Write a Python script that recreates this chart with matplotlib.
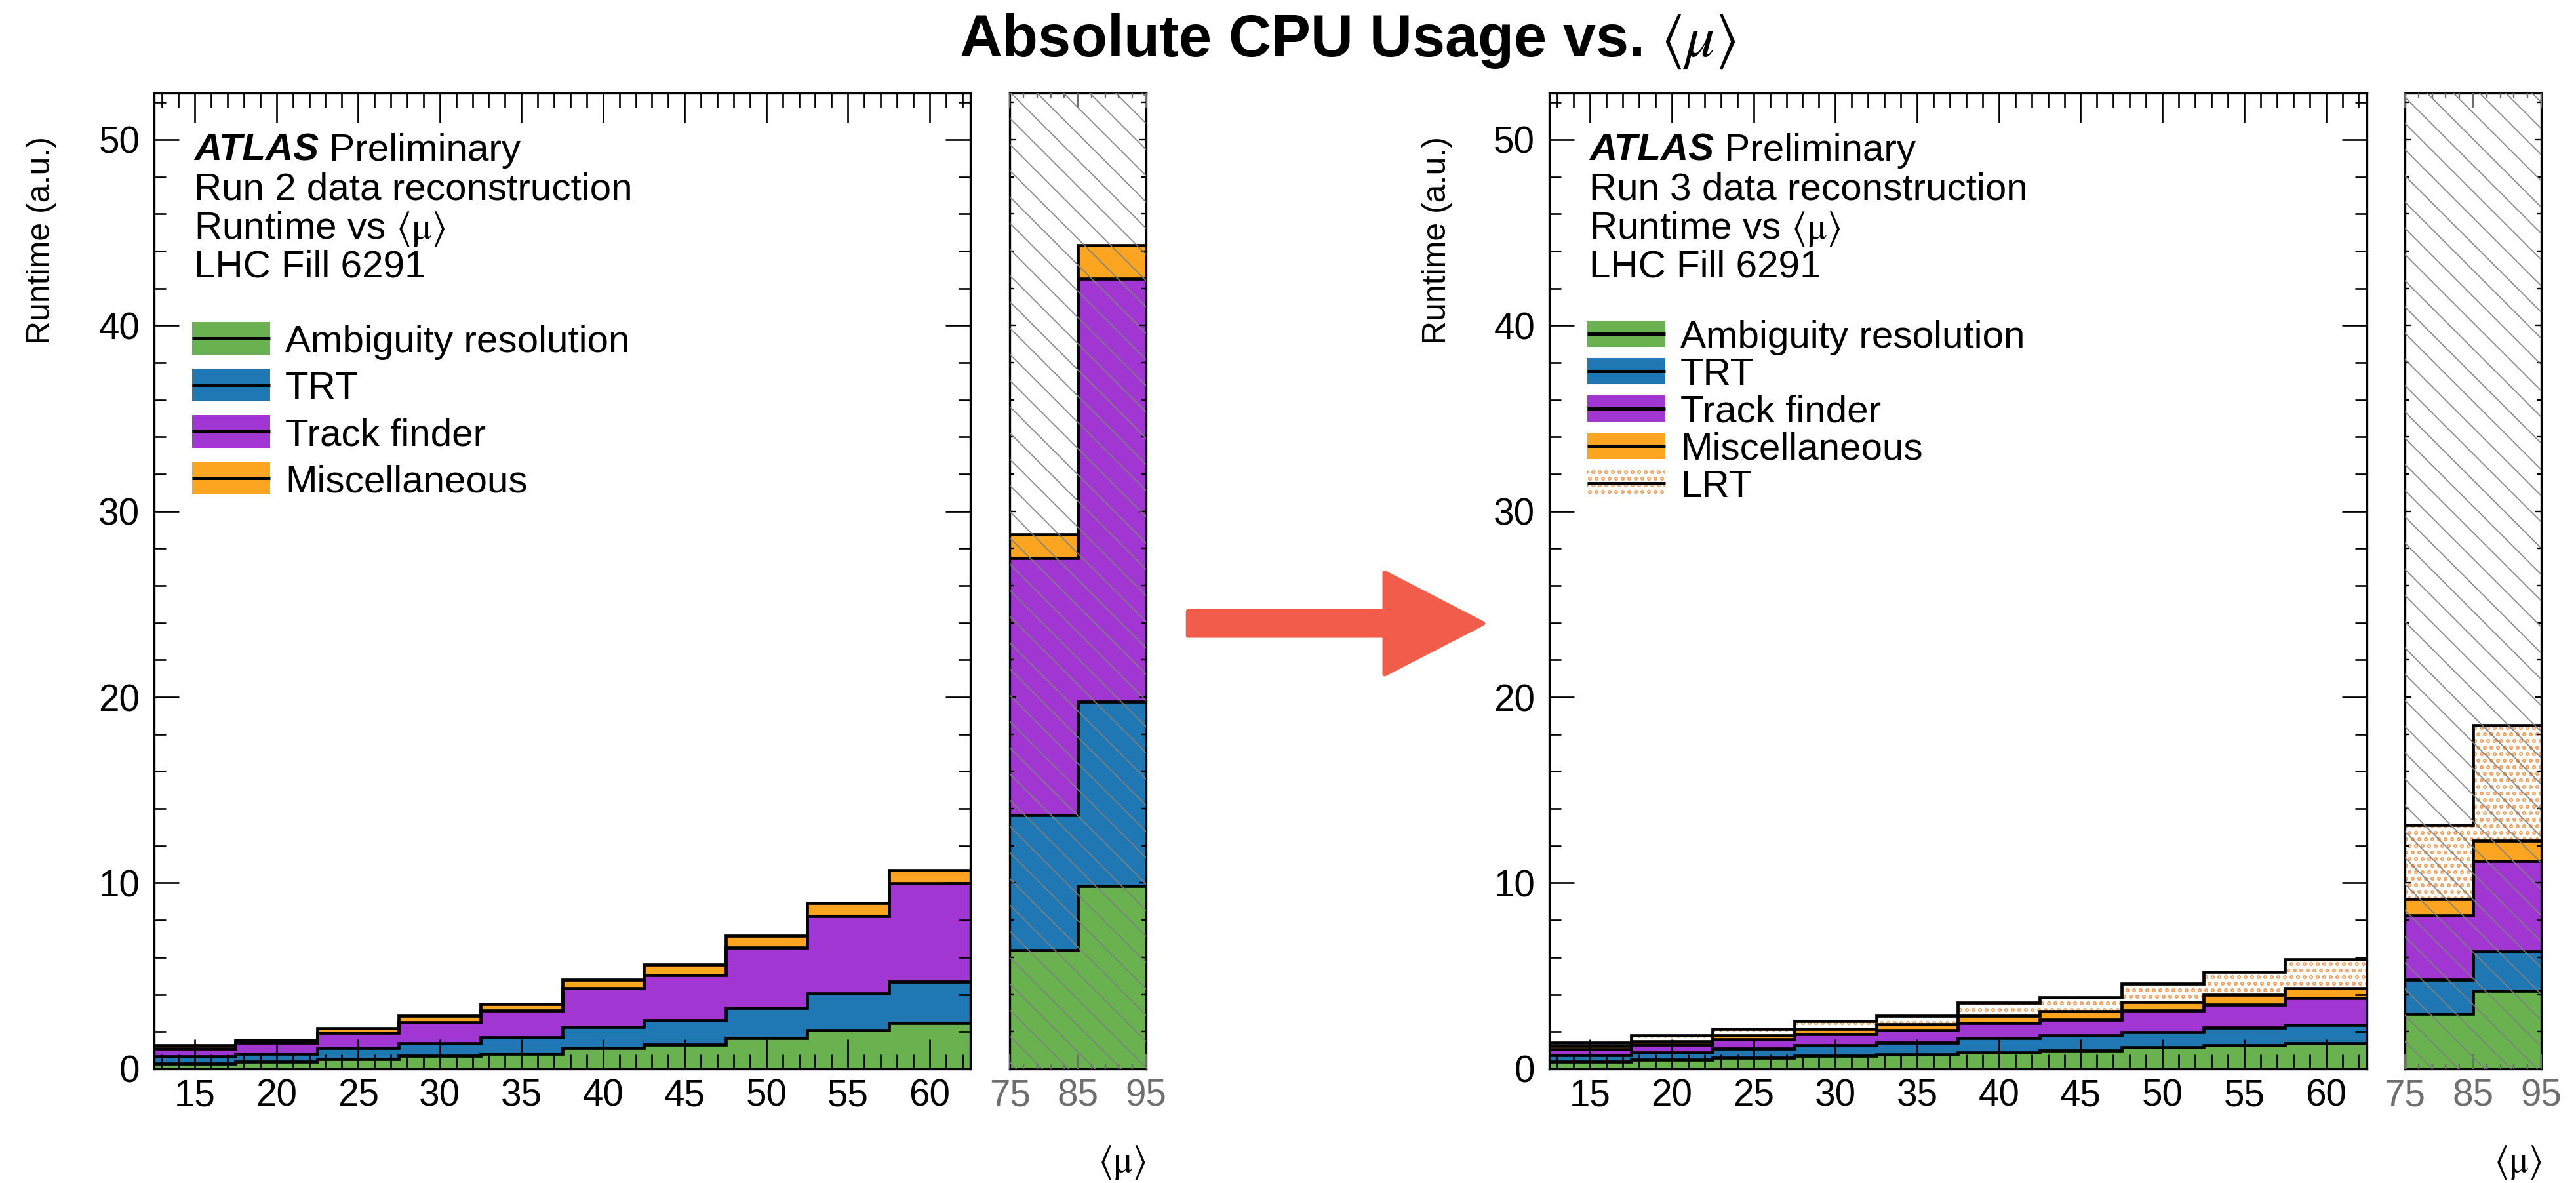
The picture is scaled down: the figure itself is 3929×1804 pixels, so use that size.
import matplotlib
matplotlib.use('Agg')
import numpy as np
import matplotlib.pyplot as plt
from matplotlib.patches import Rectangle, FancyArrow
from matplotlib.ticker import MultipleLocator, FixedLocator

plt.rcParams['font.family'] = 'Liberation Sans'
plt.rcParams['mathtext.fontset'] = 'stix'
plt.rcParams['hatch.linewidth'] = 1.0

# <mu> binning: regular range and high-pileup bins
mu_edges = np.arange(12.5, 67.5, 5.0)
high_edges = np.array([75.0, 85.0, 95.0])
high_ticks = [75, 85, 95]

# Run 2 runtime per component (a.u.)
run2_ambi = [0.29, 0.39, 0.54, 0.70, 0.82, 1.12, 1.31, 1.66, 2.07, 2.47]
run2_trt = [0.39, 0.41, 0.59, 0.69, 0.86, 1.15, 1.29, 1.61, 1.97, 2.23]
run2_finder = [0.41, 0.60, 0.79, 1.11, 1.47, 2.06, 2.44, 3.26, 4.17, 5.28]
run2_misc = [0.16, 0.16, 0.28, 0.36, 0.35, 0.47, 0.55, 0.62, 0.71, 0.72]
run2_high_ambi = [6.39, 9.83]
run2_high_trt = [7.26, 9.94]
run2_high_finder = [13.85, 22.73]
run2_high_misc = [1.25, 1.80]

# Run 3 runtime per component (a.u.)
run3_ambi = [0.38, 0.49, 0.60, 0.71, 0.78, 0.89, 0.97, 1.16, 1.25, 1.36]
run3_trt = [0.37, 0.39, 0.49, 0.56, 0.63, 0.78, 0.81, 0.83, 0.98, 1.01]
run3_finder = [0.30, 0.42, 0.48, 0.58, 0.68, 0.78, 0.88, 1.14, 1.22, 1.43]
run3_misc = [0.17, 0.18, 0.24, 0.31, 0.32, 0.41, 0.44, 0.46, 0.52, 0.52]
run3_lrt = [0.20, 0.30, 0.35, 0.42, 0.46, 0.69, 0.74, 0.98, 1.25, 1.57]
run3_high_ambi = [2.95, 4.21]
run3_high_trt = [1.84, 2.11]
run3_high_finder = [3.45, 4.87]
run3_high_misc = [0.88, 1.07]
run3_high_lrt = [4.02, 6.24]

labels = ['Ambiguity resolution', 'TRT', 'Track finder', 'Miscellaneous', 'LRT']
colors = ['#6ab150', '#1f77b4', '#a236d2', '#fda521', '#f0a060']
hatches = [None, None, None, None, 'oo']

YMAX = 52.5
LW = 2.8
FS = 35


def draw_stack(ax, edges, comps):
    base = np.zeros(len(edges) - 1)
    for vals, col, hat in zip(comps, colors, hatches):
        top = base + np.asarray(vals)
        if hat:
            ax.stairs(top, edges, baseline=base, fill=True, facecolor='white',
                      edgecolor=col, hatch=hat, lw=0)
        else:
            ax.stairs(top, edges, baseline=base, fill=True, color=col, lw=0)
        ax.stairs(top, edges, baseline=None, color='black', lw=LW, zorder=2)
        base = top


def style_main(ax):
    ax.set_xlim(12.5, 62.5)
    ax.set_ylim(0, YMAX)
    ax.set_axisbelow(False)
    ax.xaxis.set_major_locator(MultipleLocator(5))
    ax.xaxis.set_minor_locator(MultipleLocator(1))
    ax.yaxis.set_major_locator(MultipleLocator(10))
    ax.yaxis.set_minor_locator(MultipleLocator(2))
    ax.tick_params(which='both', direction='in', top=True, right=True, width=1.6, labelsize=34)
    ax.tick_params(axis='x', which='major', length=27, pad=9)
    ax.tick_params(axis='x', which='minor', length=13)
    ax.tick_params(axis='y', which='major', length=23, pad=13)
    ax.tick_params(axis='y', which='minor', length=11)
    for s in ax.spines.values():
        s.set_linewidth(2)


def style_high(ax):
    ax.set_xlim(75, 95)
    ax.set_ylim(0, YMAX)
    ax.set_axisbelow(False)
    ax.xaxis.set_major_locator(FixedLocator(high_ticks))
    ax.xaxis.set_minor_locator(MultipleLocator(2, offset=1))
    ax.yaxis.set_major_locator(MultipleLocator(10))
    ax.yaxis.set_minor_locator(MultipleLocator(2))
    ax.tick_params(which='both', direction='in', top=True, right=True, width=1.4)
    ax.tick_params(axis='x', which='both', colors='#6e6e6e', labelsize=34, pad=9)
    ax.tick_params(axis='x', which='major', length=13)
    ax.tick_params(axis='x', which='minor', length=4.5)
    ax.tick_params(axis='y', which='major', length=6, labelleft=False)
    ax.tick_params(axis='y', which='minor', length=4)
    for s in ax.spines.values():
        s.set_linewidth(2)
    # diagonal hatch over the high-pileup region
    ax.add_patch(Rectangle((0, 0), 1, 1, transform=ax.transAxes, facecolor='none',
                           edgecolor='#808080', hatch='\\', lw=0, zorder=3))


def draw_text(ax, run):
    t = ax.text(0.049, 0.9308, 'ATLAS', transform=ax.transAxes, fontsize=FS,
                fontweight='bold', fontstyle='italic')
    ax.annotate(' Preliminary', xy=(1, 0), xycoords=t, va='bottom', fontsize=FS)
    lines = ['Run %d data reconstruction' % run,
             r'Runtime vs $\langle\mathrm{\mu}\rangle$',
             'LHC Fill 6291']
    for y, s in zip([0.8911, 0.8508, 0.8112], lines):
        ax.text(0.049, y, s, transform=ax.transAxes, fontsize=FS)


def draw_legend(ax, n, y0, step, box_h):
    x0, w = 0.0466, 0.0956
    for i in range(n):
        yc = y0 - i * step
        if hatches[i]:
            ax.add_patch(Rectangle((x0, yc - box_h / 2), w, box_h, transform=ax.transAxes,
                                   facecolor='white', edgecolor=colors[i], hatch=hatches[i], lw=0))
        else:
            ax.add_patch(Rectangle((x0, yc - box_h / 2), w, box_h, transform=ax.transAxes,
                                   facecolor=colors[i], lw=0))
        ax.plot([x0, x0 + w], [yc, yc], transform=ax.transAxes, color='black', lw=3,
                solid_capstyle='butt')
        ax.text(0.1606, yc, labels[i], transform=ax.transAxes, va='center_baseline', fontsize=FS)


fig = plt.figure(figsize=(3929 / 120, 1804 / 120), dpi=120)
ax_l = fig.add_axes([0.0598, 0.0965, 0.3169, 0.8248])
ax_lh = fig.add_axes([0.3920, 0.0965, 0.0529, 0.8248])
ax_r = fig.add_axes([0.6014, 0.0965, 0.3174, 0.8248])
ax_rh = fig.add_axes([0.9336, 0.0965, 0.0529, 0.8248])

# Run 2
draw_stack(ax_l, mu_edges, [run2_ambi, run2_trt, run2_finder, run2_misc])
draw_stack(ax_lh, high_edges, [run2_high_ambi, run2_high_trt, run2_high_finder, run2_high_misc])
style_main(ax_l)
style_high(ax_lh)
draw_text(ax_l, 2)
draw_legend(ax_l, 4, 0.7487, 0.0478, 0.0336)

# Run 3
draw_stack(ax_r, mu_edges, [run3_ambi, run3_trt, run3_finder, run3_misc, run3_lrt])
draw_stack(ax_rh, high_edges, [run3_high_ambi, run3_high_trt, run3_high_finder,
                               run3_high_misc, run3_high_lrt])
style_main(ax_r)
style_high(ax_rh)
draw_text(ax_r, 3)
draw_legend(ax_r, 5, 0.7534, 0.0383, 0.0269)

# axis titles
for x in [0.016, 0.558]:
    fig.text(x, 0.8847, 'Runtime (a.u.)', rotation=90, ha='center', va='top', fontsize=30)
for x in [1748 / 3929, 3877 / 3929]:
    fig.text(x, 0.0094, r'$\langle\mathrm{\mu}\rangle$', ha='right', va='baseline', fontsize=34)

fig.text(0.523, 0.965, r'Absolute CPU Usage vs. $\langle\mu\rangle$', ha='center', va='center',
         fontsize=54, fontweight='bold')

# Run 2 -> Run 3 arrow
fig.patches.append(FancyArrow(0.4612, 0.473, 0.1145, 0, width=0.0205, head_width=0.0859,
                              head_length=0.0382, length_includes_head=True,
                              transform=fig.transFigure, color='#f25c4b', lw=4,
                              joinstyle='round'))

fig.savefig('out.png', dpi=120)
